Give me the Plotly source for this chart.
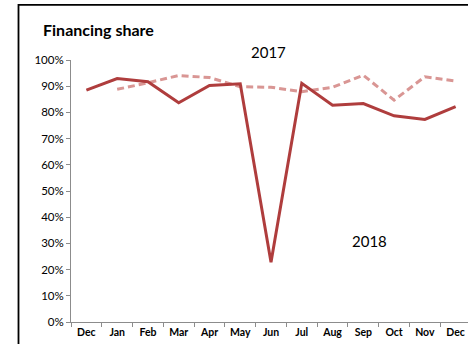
import plotly.graph_objects as go

# Monthly financing share, Dec through the following Dec
months = ["Dec", "Jan", "Feb", "Mar", "Apr", "May", "Jun",
          "Jul", "Aug", "Sep", "Oct", "Nov", "Dec"]
share_2018 = [0.885, 0.929, 0.917, 0.837, 0.903, 0.909, 0.228,
              0.911, 0.827, 0.834, 0.787, 0.773, 0.822]
share_2017 = [None, 0.888, 0.913, 0.941, 0.933, 0.898, 0.896,
              0.879, 0.896, 0.942, 0.847, 0.936, 0.920]
y_ticks = [0.0, 0.1, 0.2, 0.3, 0.4, 0.5, 0.6, 0.7, 0.8, 0.9, 1.0]

W, H = 468, 344
ML, MR, MT, MB = 71, 0, 60, 22
FONT = "Lato, 'Open Sans', sans-serif"

x_idx = list(range(len(months)))

fig = go.Figure()
fig.add_trace(go.Scatter(
    x=x_idx, y=share_2017, mode="lines", name="2017",
    line=dict(color="#D99694", width=3, dash="7px,4px"),
    connectgaps=False, hoverinfo="skip",
))
fig.add_trace(go.Scatter(
    x=x_idx, y=share_2018, mode="lines", name="2018",
    line=dict(color="#AF3D3D", width=3), hoverinfo="skip",
))

plot_w = W - ML - MR
plot_h = H - MT - MB
cat_w = 30.77
x_span = plot_w / cat_w


def px_x(px):
    return (px - ML) / plot_w


def px_y(py):
    return (H - MB - py) / plot_h


fig.update_layout(
    width=W, height=H,
    margin=dict(l=ML, r=MR, t=MT, b=MB),
    paper_bgcolor="white", plot_bgcolor="white",
    showlegend=False,
    font=dict(family=FONT, color="black"),
    xaxis=dict(
        range=[-0.5, -0.5 + x_span],
        tickmode="array", tickvals=x_idx,
        ticktext=[f"<b>{m}</b>" for m in months],
        ticks="", tickfont=dict(size=10.5, family=FONT),
        showgrid=False, zeroline=False,
        showline=True, linecolor="#8c8c8c", linewidth=1,
        minor=dict(tickmode="array",
                   tickvals=[i - 0.5 for i in range(len(months) + 1)],
                   ticks="outside", ticklen=4, tickcolor="#8c8c8c",
                   showgrid=False),
        fixedrange=True,
    ),
    yaxis=dict(
        range=[0, 1.0],
        tickmode="array", tickvals=y_ticks,
        ticktext=[f"{int(round(v * 100))}%" for v in y_ticks],
        ticks="outside", ticklen=4, tickcolor="#8c8c8c",
        tickfont=dict(size=11.5, family=FONT),
        showgrid=False, zeroline=False,
        showline=True, linecolor="#8c8c8c", linewidth=1,
        fixedrange=True,
    ),
    shapes=[dict(
        type="rect", xref="paper", yref="paper",
        x0=px_x(18.5), x1=px_x(W + 10),
        y0=px_y(H + 10), y1=px_y(4.8),
        line=dict(color="black", width=1.8), fillcolor="rgba(0,0,0,0)",
        layer="above",
    )],
    annotations=[
        dict(text="<b>Financing share</b>", xref="paper", yref="paper",
             x=px_x(41), y=px_y(30),
             xanchor="left", yanchor="middle", showarrow=False,
             font=dict(size=16, family=FONT)),
        dict(text="2017", xref="paper", yref="paper",
             x=px_x(268), y=px_y(52),
             xanchor="center", yanchor="middle",
             showarrow=False, font=dict(size=15, family=FONT)),
        dict(text="2018", xref="x", yref="y", x=9.2, y=0.308,
             xanchor="center", yanchor="middle",
             showarrow=False, font=dict(size=15, family=FONT)),
    ],
)

fig.write_html("out.html")
